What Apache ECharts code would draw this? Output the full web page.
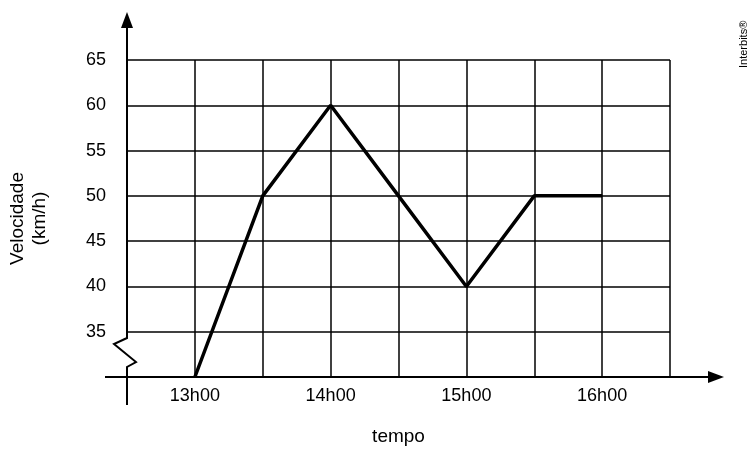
<!DOCTYPE html><html><head><meta charset="utf-8">
<script src="https://cdn.jsdelivr.net/npm/echarts@6/dist/echarts.min.js"></script></head>
<body style="margin:0"><div id="c" style="width:750px;height:450px"></div>
<script>
const times=[13,13.5,14,14.5,15,15.5,16];
const speeds=[30,50,60,50,40,50,50];
const xLabels={13:'13h00',14:'14h00',15:'15h00',16:'16h00'};
const ch=echarts.init(document.getElementById('c'));
ch.setOption({
 animation:false,backgroundColor:'#fff',
 grid:{left:127,right:80,top:60,bottom:73,containLabel:false,outerBoundsMode:'none'},
 xAxis:{type:'value',min:12.5,max:16.5,interval:0.5,
  axisLine:{show:false},axisTick:{show:false},
  splitLine:{showMinLine:false,lineStyle:{color:'#000',width:1.5}},
  axisLabel:{color:'#000',fontSize:18,fontFamily:'Liberation Sans',margin:10,formatter:v=>xLabels[v]||'',showMinLabel:false,showMaxLabel:false},
  name:'tempo',nameLocation:'middle',nameGap:50,nameTextStyle:{color:'#000',fontSize:19,fontFamily:'Liberation Sans'}},
 yAxis:{type:'value',min:30,max:65,interval:5,
  axisLine:{show:false},axisTick:{show:false},
  splitLine:{lineStyle:{color:'#000',width:1.5}},
  axisLabel:{color:'#000',fontSize:18,fontFamily:'Liberation Sans',margin:21,formatter:v=>v===30?'':v},
  name:'Velocidade\n(km/h)',nameLocation:'middle',nameGap:76,nameTextStyle:{color:'#000',fontSize:19,fontFamily:'Liberation Sans',lineHeight:22}},
 series:[{type:'line',data:times.map((t,i)=>[t,speeds[i]]),symbol:'none',lineStyle:{color:'#000',width:3.5}}],
 graphic:[
  {type:'polyline',shape:{points:[[127,25],[127,338],[114,344],[136,362],[127,367],[127,405]]},style:{stroke:'#000',lineWidth:2,fill:null}},
  {type:'polygon',shape:{points:[[127,12],[121,28],[133,28]]},style:{fill:'#000'}},
  {type:'line',shape:{x1:105,y1:377,x2:710,y2:377},style:{stroke:'#000',lineWidth:2}},
  {type:'polygon',shape:{points:[[724,377],[708,371],[708,383]]},style:{fill:'#000'}},
  {type:'text',x:738,y:68,rotation:Math.PI/2,style:{text:'Interbits®',fontSize:11,fontFamily:'Liberation Sans',fill:'#000'}}
 ]
});
</script></body></html>
